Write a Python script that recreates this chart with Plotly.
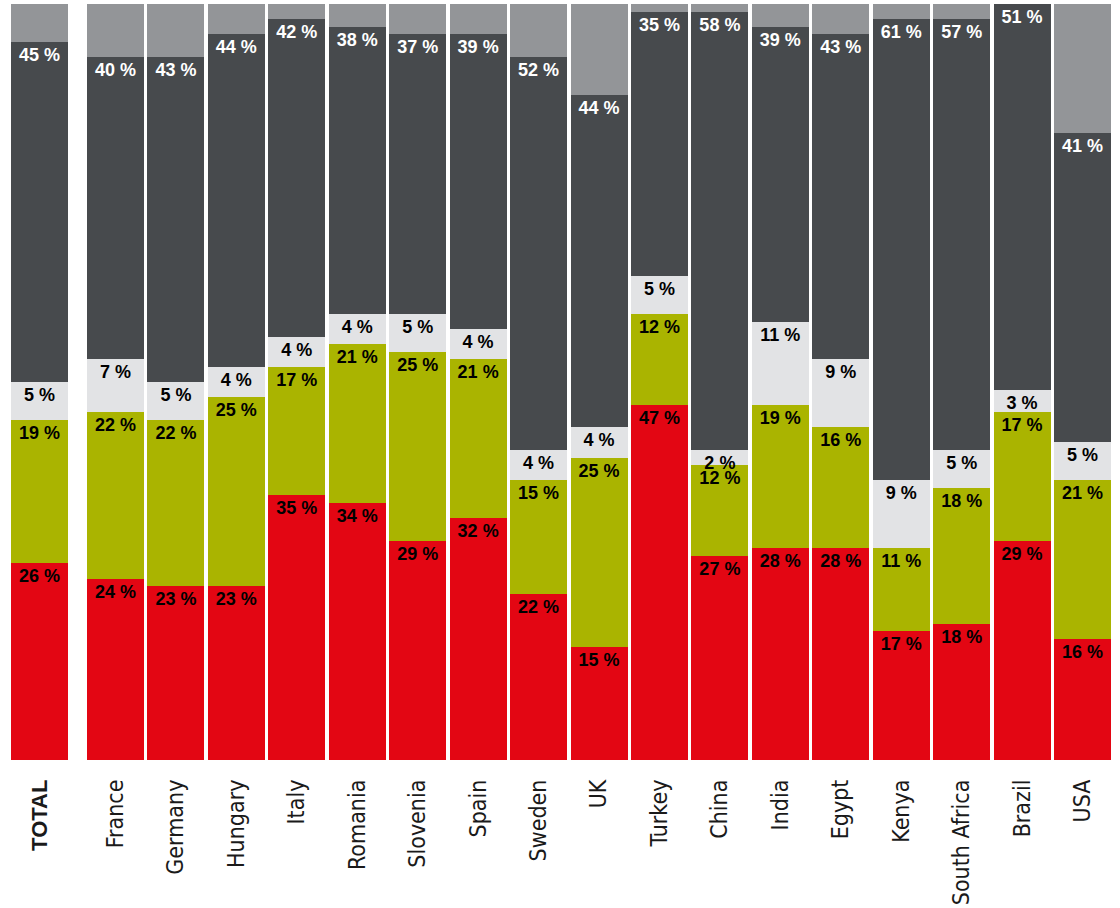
import plotly.graph_objects as go

categories = ["TOTAL", "France", "Germany", "Hungary", "Italy", "Romania", "Slovenia",
              "Spain", "Sweden", "UK", "Turkey", "China", "India", "Egypt", "Kenya",
              "South Africa", "Brazil", "USA"]

red_vals   = [26, 24, 23, 23, 35, 34, 29, 32, 22, 15, 47, 27, 28, 28, 17, 18, 29, 16]
green_vals = [19, 22, 22, 25, 17, 21, 25, 21, 15, 25, 12, 12, 19, 16, 11, 18, 17, 21]
light_vals = [5, 7, 5, 4, 4, 4, 5, 4, 4, 4, 5, 2, 11, 9, 9, 5, 3, 5]
dark_vals  = [45, 40, 43, 44, 42, 38, 37, 39, 52, 44, 35, 58, 39, 43, 61, 57, 51, 41]
rest_vals  = [5, 7, 7, 4, 2, 3, 4, 4, 7, 12, 1, 1, 3, 4, 2, 2, 0.5, 17]

GROUP_GAP = 0.257
xpos = [0.0] + [1.0 + GROUP_GAP + k for k in range(len(categories) - 1)]
ticktext = ["<b><span style='font-family:Liberation Sans, Arial, sans-serif;font-size:22px'>TOTAL</span></b>"] + categories[1:]

colors = {
    "red": "#E30613",
    "green": "#AAB400",
    "light": "#E2E3E5",
    "dark": "#474A4D",
    "rest": "#939598",
}

def labels(vals):
    return [f"{v} %" for v in vals]

fig = go.Figure()
series = [
    (red_vals, colors["red"], "black", True),
    (green_vals, colors["green"], "black", True),
    (light_vals, colors["light"], "black", True),
    (dark_vals, colors["dark"], "white", True),
    (rest_vals, colors["rest"], "white", False),
]
for vals, col, tcol, show in series:
    fig.add_trace(go.Bar(
        x=xpos, y=vals, width=0.943,
        marker=dict(color=col, line=dict(width=0)),
        text=labels(vals) if show else None,
        textposition="inside" if show else "none",
        insidetextanchor="end",
        textangle=0,
        constraintext="none",
        textfont=dict(family="Liberation Sans, Arial, sans-serif", size=18, color=tcol, weight="bold"),
        hoverinfo="skip",
        showlegend=False,
    ))

fig.update_layout(
    barmode="stack",
    width=1120, height=908,
    margin=dict(l=0, r=0, t=4, b=148, autoexpand=False),
    paper_bgcolor="white", plot_bgcolor="white",
    uniformtext=dict(minsize=16, mode="show"),
    xaxis=dict(
        range=[-0.6535, 17.877], automargin=False,
        tickmode="array", tickvals=xpos, ticktext=ticktext,
        tickangle=-90, showgrid=False, zeroline=False, showline=False,
        ticks="", ticklabelstandoff=14,
        tickfont=dict(family="Liberation Sans Narrow, DejaVu Sans Condensed, sans-serif", size=23, color="#1a1a1a"),
    ),
    yaxis=dict(range=[0, 100], visible=False, showgrid=False, zeroline=False, automargin=False),
)

fig.write_html("out.html")
